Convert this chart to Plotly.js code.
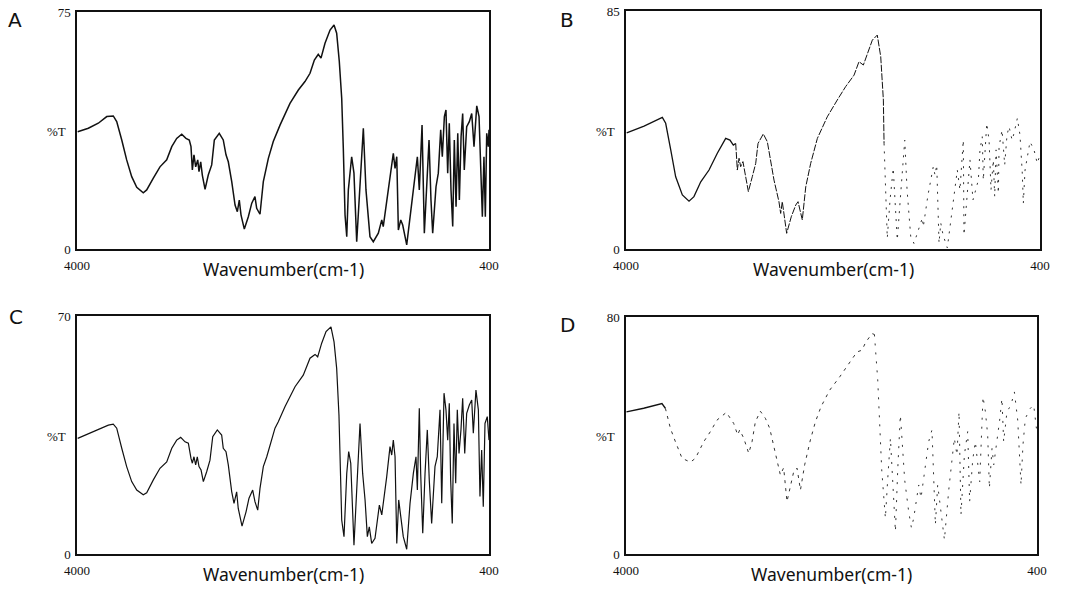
<!DOCTYPE html>
<html>
<head>
<meta charset="utf-8">
<script src="https://cdn.plot.ly/plotly-3.0.1.min.js"></script>
<style>html,body{margin:0;padding:0;background:#fff;}#chart{width:1068px;height:589px;}</style>
</head>
<body>
<div id="chart"></div>
<script>
// Panel A
const wnA = [3994,3901,3814,3740,3683,3653,3609,3566,3522,3478,
3421,3391,3333,3275,3216,3172,3129,3085,3048,3019,
3004,2992,2978,2963,2945,2934,2919,2905,2881,2853,
2823,2800,2757,2722,2698,2678,2648,2619,2599,2582,
2567,2538,2503,2473,2445,2430,2401,2372,2328,2285,
2226,2139,2066,2008,1964,1926,1892,1868,1833,1789,
1754,1731,1708,1687,1673,1658,1643,1629,1600,1580,
1556,1527,1498,1475,1455,1440,1411,1367,1337,1324,
1280,1250,1236,1221,1206,1192,1171,1154,1119,1075,
1047,1026,1009,985,965,939,924,907,892,863,
843,822,808,790,776,761,747,732,717,703,
688,673,659,644,630,616,595,572,551,531,
507,487,472,458,444,432,420,406,400];
const tA = [37.1,38.2,39.8,41.9,42.1,40.3,34.5,28.2,22.9,19.5,
17.8,18.7,22.4,26.0,28.2,32.4,35.0,36.3,35.0,34.5,
32.4,25.0,29.8,26.0,28.2,24.5,27.6,23.4,18.9,23.4,
26.6,34.5,36.6,34.5,29.8,27.6,21.3,13.9,11.8,15.5,
10.8,6.3,10.2,14.5,16.6,12.9,11.0,21.3,28.7,34.0,
39.2,46.1,50.3,53.0,55.6,59.8,61.6,60.4,65.1,69.3,
70.9,68.3,59.3,47.7,31.9,10.8,3.9,18.7,29.2,24.0,
2.3,18.7,38.2,18.7,10.2,3.9,2.3,5.0,9.2,7.1,
18.7,27.1,30.3,25.5,29.2,6.0,9.2,7.6,1.3,14.5,
22.9,29.2,18.7,39.2,5.0,25.0,34.5,15.5,5.0,19.7,
24.0,37.7,29.2,41.9,44.0,24.0,39.8,18.7,7.1,34.5,
13.4,36.6,15.5,35.5,42.9,25.0,38.7,40.3,42.9,32.4,
45.3,41.9,25.0,10.2,29.2,10.2,36.6,32.4,37.7];

// Panel B
const wnB = [3994,3843,3684,3655,3611,3568,3510,3452,3409,3350,
3278,3206,3133,3096,3067,3046,3032,3017,3003,2983,
2968,2936,2902,2872,2852,2806,2771,2748,2713,2670,
2655,2641,2603,2563,2524,2504,2467,2437,2394,2336,
2250,2163,2090,2017,1974,1936,1902,1858,1815,1785,
1762,1756,1739,1728,1704,1676,1661,1641,1609,1576,
1556,1524,1496,1461,1423,1415,1374,1328,1313,1298,
1287,1278,1263,1243,1206,1165,1119,1096,1067,1061,
1032,1009,983,936,922,902,893,863,843,826,
806,794,782,762,756,730,707,687,669,643,
626,597,574,554,545,530,487,452,424,400];
const tB = [41.5,43.9,47.0,44.9,35.4,25.8,19.3,17.1,18.7,24.0,
28.2,34.2,39.5,38.9,37.1,37.7,28.2,32.4,29.4,31.2,
27.6,20.5,25.8,30.6,37.7,41.1,38.3,33.0,24.6,16.9,
12.7,16.9,5.6,11.5,15.7,16.9,10.4,22.2,30.6,39.5,
47.2,53.2,58.0,62.1,66.9,65.7,69.9,74.6,76.4,68.7,
53.2,37.7,12.1,3.9,17.5,28.9,17.5,3.2,21.1,38.9,
21.1,4.4,2.0,6.1,11.1,7.9,19.3,29.4,26.4,30.0,
13.9,2.1,9.3,5.0,0.4,13.9,28.2,21.1,38.9,5.0,
20.5,31.8,17.5,24.6,35.4,40.1,24.6,44.9,38.9,21.1,
31.8,18.7,35.4,19.9,36.5,42.5,30.0,40.7,43.7,38.9,
41.3,46.7,40.7,27.0,16.3,28.2,38.3,35.4,30.6,33.6];

// Panel C
const wnC = [3994,3901,3814,3726,3683,3653,3609,3566,3522,3478,
3421,3391,3333,3275,3216,3172,3129,3094,3056,3027,
3004,2992,2978,2963,2949,2934,2916,2896,2867,2838,
2814,2774,2736,2722,2698,2678,2648,2628,2605,2591,
2558,2523,2497,2465,2445,2421,2401,2372,2342,2314,
2270,2241,2183,2095,2023,1964,1920,1897,1862,1824,
1781,1754,1731,1711,1687,1667,1643,1626,1608,1580,
1551,1527,1504,1483,1463,1446,1425,1396,1358,1337,
1294,1265,1250,1236,1221,1206,1189,1171,1149,1119,
1090,1061,1038,1026,1009,997,979,959,939,922,
901,872,852,828,813,793,776,761,747,735,
721,706,691,677,662,645,630,612,595,572,
551,537,514,493,479,464,450,435,415,400];
const tC = [34.0,35.3,36.5,37.9,38.2,37.0,31.1,25.7,21.3,18.8,
17.4,18.0,21.8,25.2,27.1,31.1,33.5,34.3,33.0,32.6,
28.1,26.7,28.6,26.2,28.6,25.7,24.7,21.3,24.2,27.6,
34.5,36.5,35.0,31.1,30.1,26.2,18.3,14.9,18.3,13.4,
8.2,12.4,16.4,18.8,15.4,12.9,19.3,25.7,28.6,31.6,
37.0,38.9,43.3,49.2,52.6,57.6,58.7,58.0,62.0,65.4,
66.8,62.4,54.6,40.9,10.0,5.1,23.7,30.1,26.7,2.6,
23.7,38.4,23.7,15.9,5.1,8.0,3.1,4.6,14.4,11.5,
22.7,31.6,29.1,33.5,28.6,3.1,15.9,11.0,5.1,1.4,
14.9,23.7,28.6,18.8,42.9,23.7,6.1,23.7,36.5,21.8,
9.0,25.7,28.6,42.4,14.9,47.3,42.4,33.5,44.3,21.8,
9.0,38.4,20.8,42.4,29.6,36.5,45.8,29.6,41.4,43.8,
45.3,35.5,48.2,42.4,16.9,30.6,13.9,38.4,40.4,33.5];

// Panel D
const wnD = [3996,3845,3685,3655,3611,3567,3509,3436,3392,3319,
3261,3203,3121,3057,3022,3004,2984,2969,2925,2896,
2867,2823,2779,2741,2698,2648,2619,2590,2531,2502,
2472,2435,2385,2341,2292,2216,2128,2058,1977,1933,
1900,1845,1824,1795,1760,1728,1708,1684,1670,1640,
1620,1597,1583,1559,1524,1500,1480,1436,1416,1384,
1349,1320,1290,1270,1252,1211,1173,1124,1101,1083,
1066,1036,1007,990,963,940,902,873,852,832,
817,794,779,750,727,707,692,663,628,598,
569,540,523,502,458,429,405];
const tD = [48.0,49.2,50.8,49.2,42.4,37.9,32.3,31.0,32.3,37.9,
41.3,45.2,47.8,44.1,40.2,41.9,40.2,39.1,34.0,37.9,
44.6,48.2,45.8,42.4,35.1,26.7,29.1,17.7,27.8,29.0,
21.6,30.1,38.5,44.6,49.7,55.3,59.8,63.7,68.2,68.8,
71.5,74.4,74.1,58.7,28.4,12.1,25.0,39.1,29.0,7.6,
28.4,46.9,39.1,25.0,14.3,8.8,12.1,23.3,18.9,28.4,
37.9,41.9,9.9,23.3,17.7,4.8,21.6,39.1,33.4,48.0,
13.2,33.4,41.3,17.7,31.8,37.9,24.4,53.1,48.0,40.2,
22.2,35.7,30.1,37.9,45.2,52.5,37.9,48.0,50.3,54.7,
45.2,23.3,36.8,45.8,49.2,50.3,42.4];

const yMax = {A: 75, B: 85, C: 70, D: 80};
const xTicks = [4000, 400];
const panelLetters = ['A', 'B', 'C', 'D'];
const yLabel = '%T';
const xLabel = 'Wavenumber(cm-1)';

function seg(wn, t, hi, lo) {
  const x = [], y = [];
  wn.forEach((w, i) => { if (w <= hi && w >= lo) { x.push(w); y.push(t[i]); } });
  return {x, y};
}
function tr(d, xa, ya, line) {
  return {x: d.x, y: d.y, xaxis: xa, yaxis: ya, type: 'scatter', mode: 'lines',
          line: Object.assign({color: '#111', width: 1.4, shape: 'linear'}, line),
          hoverinfo: 'skip', showlegend: false};
}

const traces = [
  tr({x: wnA, y: tA}, 'x', 'y', {width: 1.5}),
  tr(seg(wnB, tB, 4000, 3046), 'x2', 'y2', {width: 1.3}),
  tr(seg(wnB, tB, 3046, 1756), 'x2', 'y2', {width: 1.0, dash: '7px,1.5px'}),
  tr(seg(wnB, tB, 1756, 400), 'x2', 'y2', {width: 1.0, dash: '2px,6px', color: '#333'}),
  tr({x: wnC, y: tC}, 'x3', 'y3', {width: 1.2}),
  tr(seg(wnD, tD, 4000, 3655), 'x4', 'y4', {width: 1.3}),
  tr(seg(wnD, tD, 3655, 1824), 'x4', 'y4', {width: 1.0, dash: '3px,5px', color: '#333'}),
  tr(seg(wnD, tD, 1824, 400), 'x4', 'y4', {width: 1.0, dash: '2px,7px', color: '#333'})
];

const W = 1068, H = 589;
const boxes = [
  {l: 77, r: 489, t: 12, b: 249},
  {l: 626, r: 1040, t: 11, b: 249},
  {l: 77, r: 489, t: 316, b: 554},
  {l: 626, r: 1037, t: 317, b: 554}
];
const keys = ['A', 'B', 'C', 'D'];
const layout = {
  width: W, height: H, margin: {l: 0, r: 0, t: 0, b: 0},
  paper_bgcolor: '#fff', plot_bgcolor: '#fff', showlegend: false,
  annotations: []
};
const tickFont = {family: 'Liberation Serif, serif', size: 13, color: '#111'};
boxes.forEach((bx, i) => {
  const sfx = i === 0 ? '' : String(i + 1);
  const ymax = yMax[keys[i]];
  layout['xaxis' + sfx] = {
    domain: [bx.l / W, bx.r / W], anchor: 'y' + sfx, range: [4000, 400],
    showgrid: false, zeroline: false, showline: true, mirror: true,
    linecolor: '#111', linewidth: 1.6, ticks: '', ticklabelstandoff: 4,
    tickmode: 'array', tickvals: xTicks, ticktext: xTicks.map(String),
    tickfont: tickFont, fixedrange: true
  };
  layout['yaxis' + sfx] = {
    domain: [1 - bx.b / H, 1 - bx.t / H], anchor: 'x' + sfx, range: [0, ymax],
    showgrid: false, zeroline: false, showline: true, mirror: true,
    linecolor: '#111', linewidth: 1.6, ticks: '', ticklabelstandoff: 2,
    tickmode: 'array', tickvals: [0, ymax], ticktext: ['0', String(ymax)],
    tickfont: tickFont, fixedrange: true
  };
  layout.annotations.push({
    xref: 'paper', yref: 'paper', x: ((bx.l + bx.r) / 2) / W, y: 1 - (bx.b + 20) / H,
    text: xLabel, showarrow: false, xanchor: 'center', yanchor: 'middle',
    font: {family: 'Noto Sans, DejaVu Sans, sans-serif', size: 17.5, color: '#111'}
  });
  layout.annotations.push({
    xref: 'paper', yref: 'paper', x: (bx.l - 21) / W, y: 1 - ((bx.t + bx.b) / 2 + 1) / H,
    text: yLabel, showarrow: false, xanchor: 'center', yanchor: 'middle',
    font: {family: 'Liberation Serif, serif', size: 13, color: '#111'}
  });
});
const letterPos = [[15, 20], [567, 20], [16, 317], [567, 325]];
panelLetters.forEach((L, i) => {
  layout.annotations.push({
    xref: 'paper', yref: 'paper', x: letterPos[i][0] / W, y: 1 - letterPos[i][1] / H,
    text: L, showarrow: false, xanchor: 'center', yanchor: 'middle',
    font: {family: 'DejaVu Sans, sans-serif', size: 20, color: '#111'}
  });
});

Plotly.newPlot('chart', traces, layout, {staticPlot: true, displayModeBar: false});
</script>
</body>
</html>
